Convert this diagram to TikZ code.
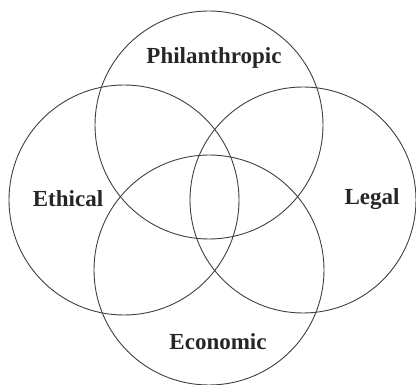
\documentclass[tikz,border=0pt]{standalone}
\usepackage{fontspec}
\setmainfont{Liberation Serif}
\begin{document}
\begin{tikzpicture}[x=1pt,y=-1pt,
  ring/.style={draw=black!75,line width=0.9pt},
  lbl/.style={font=\fontsize{23}{25}\selectfont\bfseries,text=black!85,inner sep=0pt}]
\useasboundingbox (0,0) rectangle (416,385);
\draw[ring] (209,125) circle (114);
\draw[ring] (124,200) circle (115);
\draw[ring] (303,200) circle (113);
\draw[ring] (209,270) circle (115);
\node[lbl] (phil) at (214,58) {Philanthropic};
\node[lbl] (eth) at (68,199) {Ethical};
\node[lbl] (leg) at (372,199) {Legal};
\node[lbl] (eco) at (218,342) {Economic};
\end{tikzpicture}
\end{document}
